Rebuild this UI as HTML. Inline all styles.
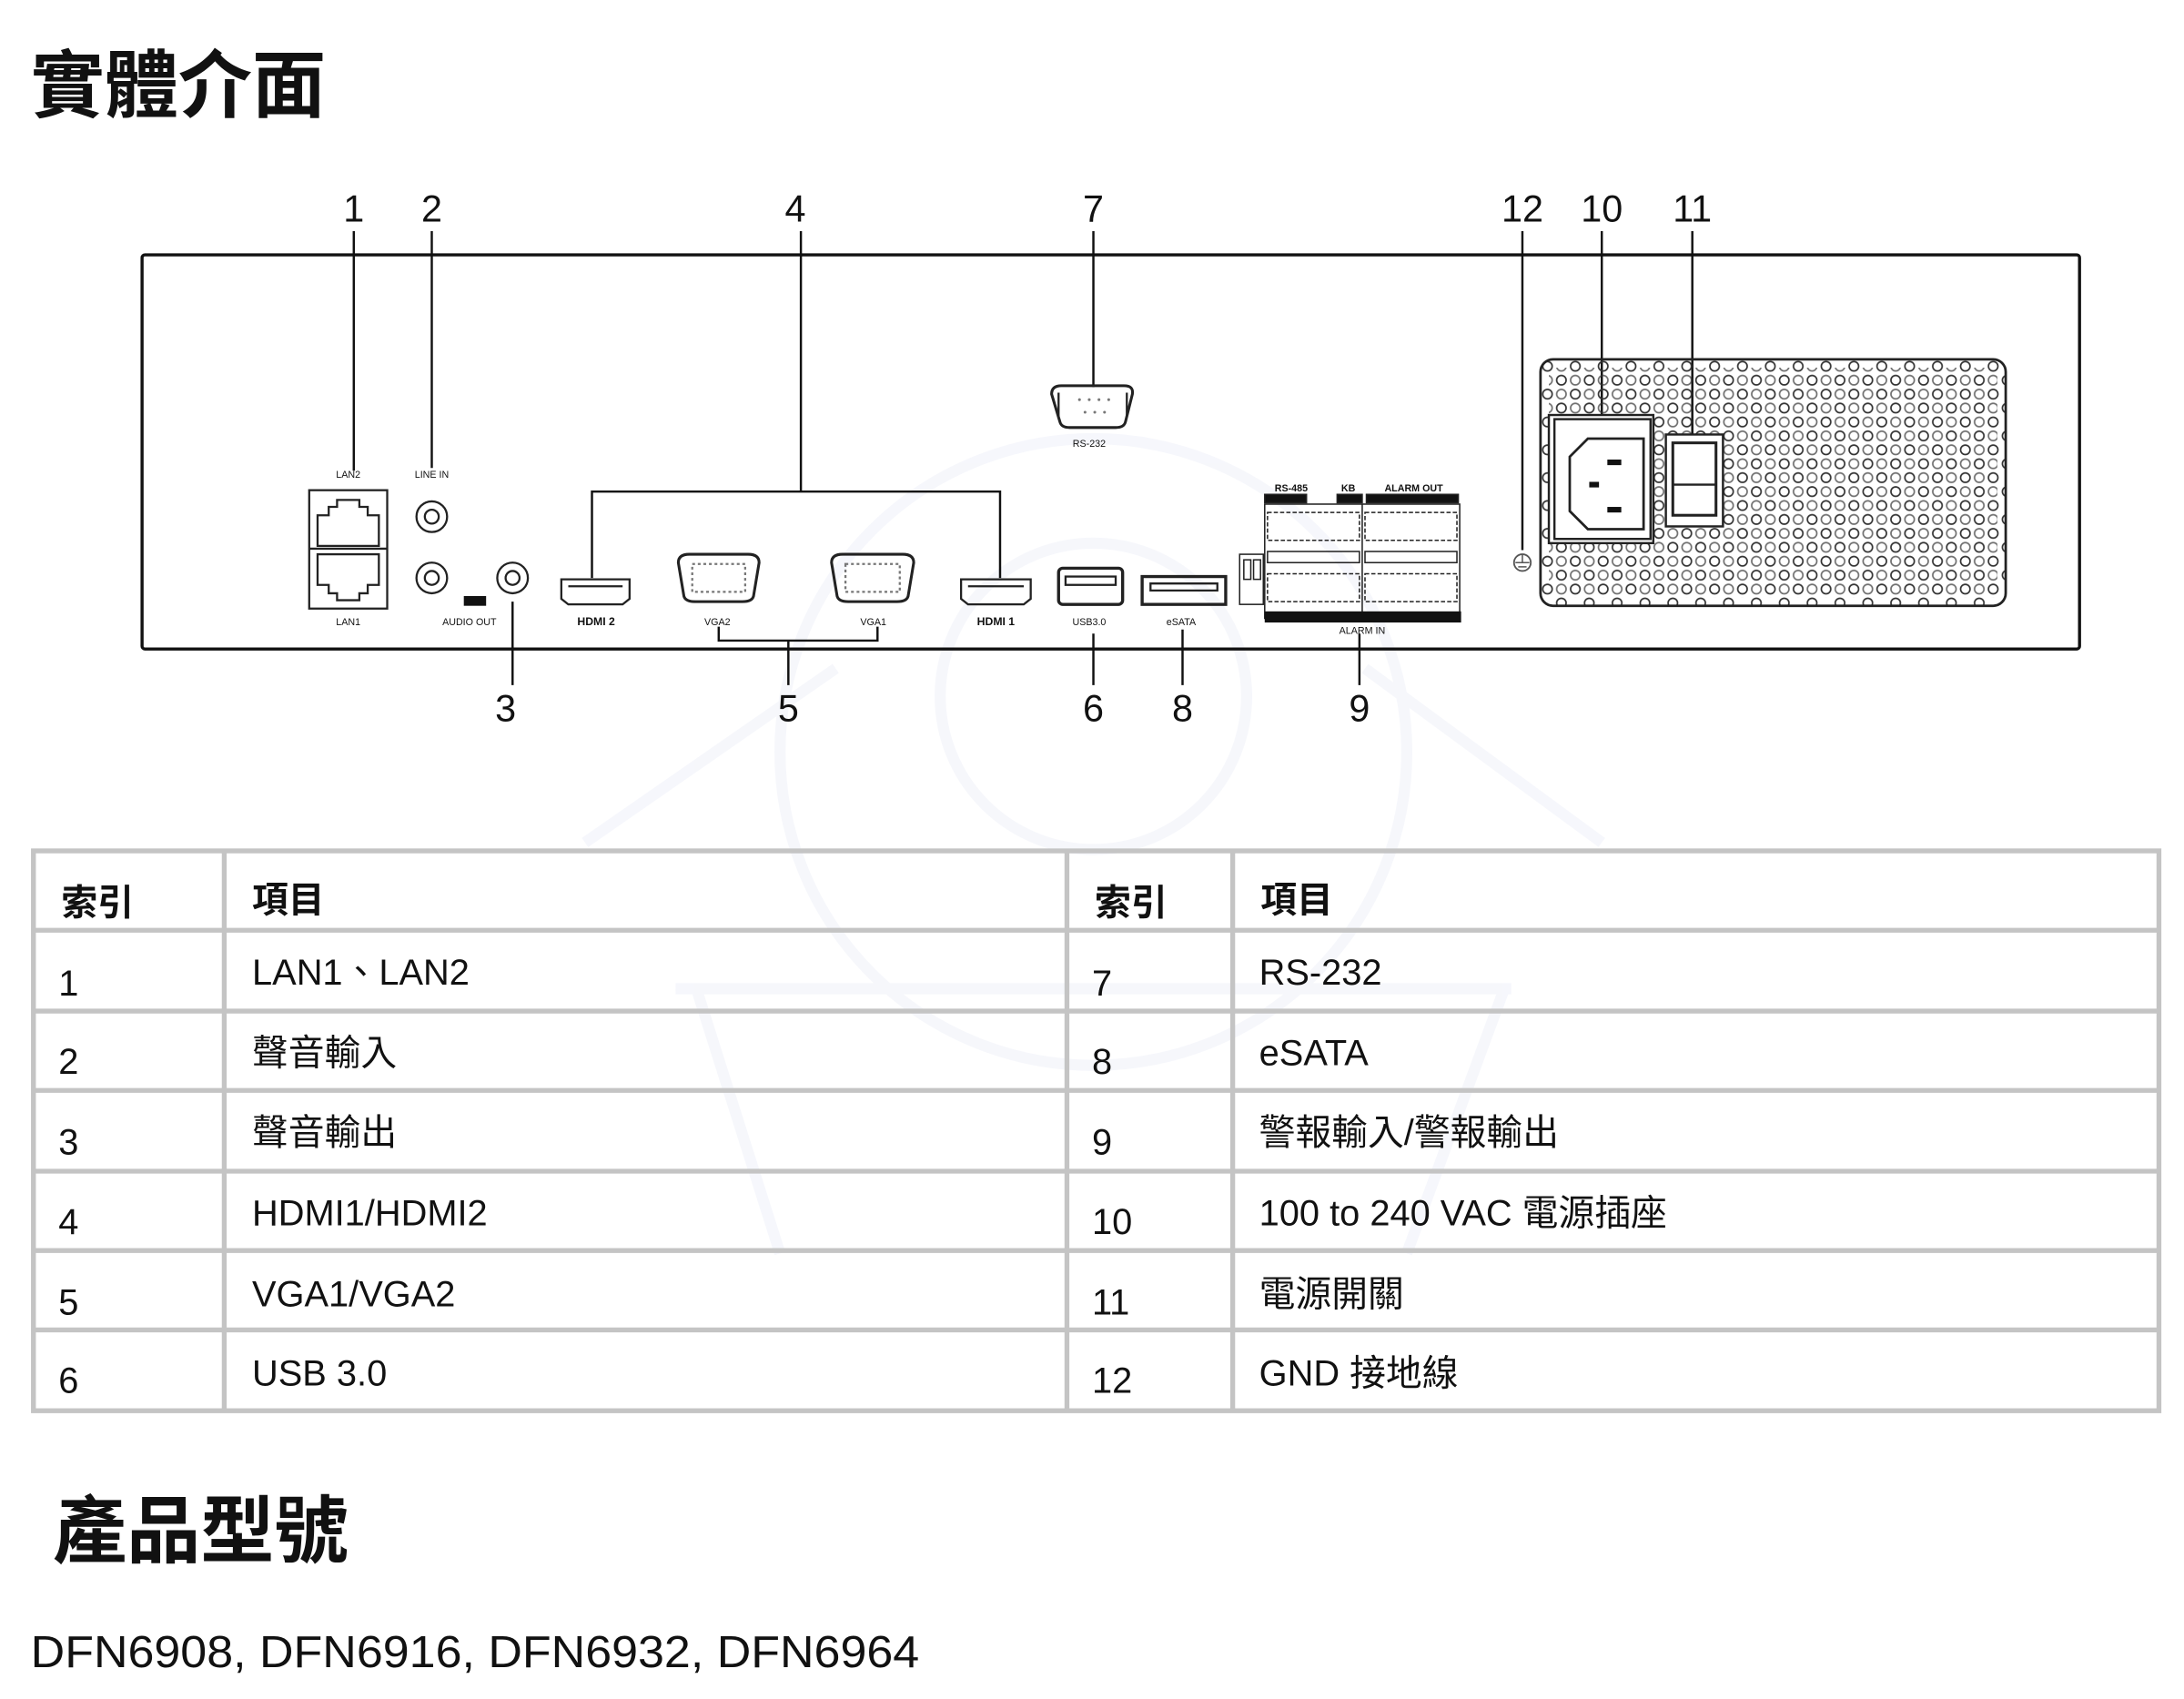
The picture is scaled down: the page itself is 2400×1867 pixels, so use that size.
<!DOCTYPE html>
<html><head><meta charset="utf-8"><style>
html,body{margin:0;padding:0;background:#fff}
svg{display:block}
text{font-family:"Liberation Sans","Noto Sans CJK TC",sans-serif;fill:#111}
</style></head><body>
<svg width="2400" height="1867" viewBox="0 0 1568 1220" preserveAspectRatio="none" xmlns="http://www.w3.org/2000/svg">
<defs>
<pattern id="hex" width="20" height="20" patternUnits="userSpaceOnUse" x="1106" y="258">
<circle cx="5" cy="5" r="3.4" fill="none" stroke="#333" stroke-width="1.1"/>
<circle cx="15" cy="15" r="3.4" fill="none" stroke="#333" stroke-width="1.1"/>
</pattern>
<pattern id="hex2" width="20" height="20" patternUnits="userSpaceOnUse" x="1116" y="258">
<circle cx="5" cy="5" r="3.4" fill="none" stroke="#333" stroke-width="1.1"/>
<circle cx="15" cy="15" r="3.4" fill="none" stroke="#333" stroke-width="1.1"/>
</pattern>
</defs>
<rect width="1568" height="1220" fill="#fff"/>
<!-- faint watermark -->
<g fill="none" stroke="#eceef8" stroke-width="8" opacity="0.45">
<circle cx="785" cy="540" r="225"/>
<circle cx="785" cy="500" r="110"/>
<path d="M420 605 L600 480 M1150 605 L980 480 M485 710 L1085 710 M500 710 L560 900 M1080 710 L1010 900"/>
</g>
<text x="22" y="80" font-size="53" font-weight="bold">實體介面</text>

<rect x="102" y="183" width="1391" height="283" fill="none" stroke="#111" stroke-width="2.2" rx="2"/>

<g font-size="27" text-anchor="middle">
<text x="254" y="159">1</text><text x="310" y="159">2</text><text x="571" y="159">4</text>
<text x="785" y="159">7</text><text x="1093" y="159">12</text><text x="1150" y="159">10</text><text x="1215" y="159">11</text>
<text x="363" y="518">3</text><text x="566" y="518">5</text><text x="785" y="518">6</text><text x="849" y="518">8</text><text x="976" y="518">9</text>
</g>
<g stroke="#111" stroke-width="1.6" fill="none">
<path d="M254 166V338M310 166V336M575 166V353M425 415V353H718V415M785 166V278M1093 166V395M1150 166V300M1215 166V322"/>
<path d="M368 432V492M516 450V460H630V450M566 460V492M785 455V492M849 452V492M976 455V492"/>
</g>

<g stroke="#222" stroke-width="1.5" fill="none">
<rect x="222" y="352" width="56" height="85"/>
<line x1="222" y1="394" x2="278" y2="394"/>
<path d="M228 392V370H236V364H242V359H258V364H264V370H272V392Z"/>
<path d="M228 398V420H236V426H242V431H258V426H264V420H272V398Z"/>
<circle cx="310" cy="371" r="11"/><circle cx="310" cy="371" r="5"/>
<circle cx="310" cy="415" r="11"/><circle cx="310" cy="415" r="5"/>
<circle cx="368" cy="415" r="11"/><circle cx="368" cy="415" r="5"/>
<path d="M403 416H452V430L447 434H408L403 430Z"/><line x1="408" y1="421" x2="447" y2="421"/>
<path d="M690 416H740V430L735 434H695L690 430Z"/><line x1="695" y1="421" x2="735" y2="421"/>
<path d="M487 404Q487 398 495 398H537Q545 398 545 404L541 428Q540 432 533 432H499Q492 432 491 428Z" stroke-width="2"/>
<path d="M597 404Q597 398 605 398H648Q656 398 656 404L652 428Q651 432 644 432H609Q602 432 601 428Z" stroke-width="2"/>
<rect x="497" y="405" width="38" height="20" stroke-dasharray="2 2" stroke="#777"/>
<rect x="607" y="405" width="39" height="20" stroke-dasharray="2 2" stroke="#777"/>
<rect x="760" y="408" width="46" height="26" rx="3" stroke-width="2.2"/>
<rect x="765" y="414" width="36" height="6"/>
<rect x="820" y="414" width="60" height="20" stroke-width="2.2"/>
<path d="M826 419H874V424H826Z"/>
<path d="M755 283Q755 277 762 277H807Q814 277 813 283L808 303Q807 307 801 307H768Q762 307 761 303Z" stroke-width="2"/>
<path d="M760 282V300M809 282V300"/>
</g>
<g font-size="7" fill="#444" text-anchor="middle">
<text x="250" y="343">LAN2</text><text x="310" y="343">LINE IN</text><text x="250" y="449">LAN1</text>
<text x="337" y="449">AUDIO OUT</text><text x="782" y="321">RS-232</text>
<text x="515" y="449">VGA2</text><text x="627" y="449">VGA1</text><text x="782" y="449">USB3.0</text><text x="848" y="449">eSATA</text>
<text x="428" y="449" font-weight="bold" font-size="8">HDMI 2</text><text x="715" y="449" font-weight="bold" font-size="8">HDMI 1</text>
<text x="978" y="455">ALARM IN</text>
<text x="927" y="353" font-weight="bold">RS-485</text><text x="968" y="353" font-weight="bold">KB</text><text x="1015" y="353" font-weight="bold">ALARM OUT</text>
</g>
<rect x="333" y="428" width="16" height="7" fill="#111"/>
<g fill="#777"><circle cx="775" cy="287" r="1"/><circle cx="782" cy="287" r="1"/><circle cx="789" cy="287" r="1"/><circle cx="796" cy="287" r="1"/><circle cx="779" cy="296" r="1"/><circle cx="786" cy="296" r="1"/><circle cx="793" cy="296" r="1"/></g>

<g stroke="#222" stroke-width="1" fill="none">
<rect x="908" y="355" width="30" height="6" fill="#111"/><rect x="960" y="355" width="18" height="6" fill="#111"/><rect x="981" y="355" width="66" height="6" fill="#111"/>
<rect x="908" y="362" width="140" height="82"/>
<line x1="978" y1="362" x2="978" y2="444"/>
<rect x="910" y="368" width="66" height="20" stroke-dasharray="3 1.5"/><rect x="980" y="368" width="66" height="20" stroke-dasharray="3 1.5"/>
<rect x="910" y="396" width="66" height="8"/><rect x="980" y="396" width="66" height="8"/>
<rect x="910" y="412" width="66" height="20" stroke-dasharray="3 1.5"/><rect x="980" y="412" width="66" height="20" stroke-dasharray="3 1.5"/>
<rect x="890" y="398" width="17" height="36"/><rect x="893" y="402" width="5" height="14"/><rect x="900" y="402" width="5" height="14"/>
</g>
<rect x="908" y="439" width="141" height="8" fill="#111"/>

<rect x="1106" y="258" width="334" height="177" rx="9" fill="url(#hex)" stroke="#222" stroke-width="1.8"/>
<rect x="1112" y="264" width="322" height="165" fill="url(#hex2)" opacity="0.7"/>
<g stroke="#222" stroke-width="1.6">
<rect x="1112" y="298" width="75" height="92" fill="#fff"/>
<rect x="1116" y="301" width="69" height="86" fill="#fff"/>
<path d="M1140 315H1180V380H1140L1127 367V328Z" fill="#fff" stroke-width="1.8"/>
<rect x="1196" y="312" width="41" height="66" fill="#fff"/>
<rect x="1201" y="318" width="31" height="52" fill="#fff" stroke-width="2"/>
<line x1="1201" y1="348" x2="1232" y2="348"/>
</g>
<g fill="#111"><rect x="1154" y="330" width="10" height="4"/><rect x="1141" y="346" width="7" height="4"/><rect x="1154" y="364" width="10" height="4"/></g>
<circle cx="1093" cy="404" r="6" fill="none" stroke="#555" stroke-width="1.2"/>
<path d="M1088 404h10M1090 407h6M1093 398v6" stroke="#555" stroke-width="1"/>

<g stroke="#c4c4c4" stroke-width="3.5" fill="none">
<rect x="24" y="611" width="1526" height="402"/>
<path d="M24 668H1550M24 726H1550M24 783H1550M24 841H1550M24 898H1550M24 955H1550"/>
<path d="M161 611V1013M766 611V1013M885 611V1013"/>
</g>
<g font-size="26">
<text x="44" y="657" font-weight="bold">索引</text><text x="181" y="655" font-weight="bold">項目</text>
<text x="786" y="657" font-weight="bold">索引</text><text x="905" y="655" font-weight="bold">項目</text>
<text x="42" y="715">1</text><text x="181" y="707">LAN1、LAN2</text><text x="784" y="715">7</text><text x="904" y="707">RS-232</text>
<text x="42" y="771">2</text><text x="181" y="765">聲音輸入</text><text x="784" y="771">8</text><text x="904" y="765">eSATA</text>
<text x="42" y="829">3</text><text x="181" y="822">聲音輸出</text><text x="784" y="829">9</text><text x="904" y="822">警報輸入/警報輸出</text>
<text x="42" y="886">4</text><text x="181" y="880">HDMI1/HDMI2</text><text x="784" y="886">10</text><text x="904" y="880">100 to 240 VAC  電源插座</text>
<text x="42" y="944">5</text><text x="181" y="938">VGA1/VGA2</text><text x="784" y="944">11</text><text x="904" y="938">電源開關</text>
<text x="42" y="1000">6</text><text x="181" y="995">USB 3.0</text><text x="784" y="1000">12</text><text x="904" y="995">GND  接地線</text>
</g>
<text x="38" y="1118" font-size="53" font-weight="bold">產品型號</text>
<text x="22" y="1197" font-size="32" textLength="638" lengthAdjust="spacingAndGlyphs">DFN6908, DFN6916, DFN6932, DFN6964</text>
</svg>
</body></html>
